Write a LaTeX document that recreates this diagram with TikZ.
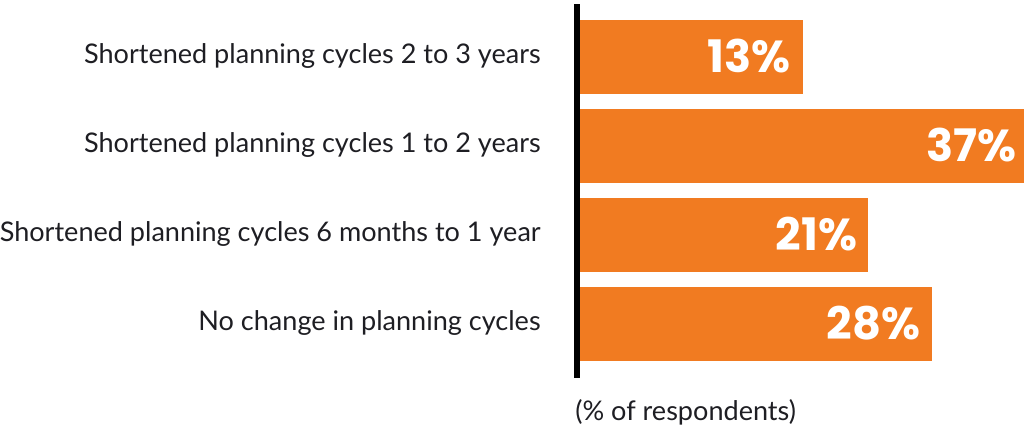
\documentclass[tikz,border=0pt]{standalone}
\usepackage{fontspec}
\setmainfont{Lato}
\newfontfamily\pctfont{Poppins}
\definecolor{barorange}{RGB}{241,123,33}
\definecolor{labelgray}{RGB}{30,30,35}
\tikzset{
  bar/.style={fill=barorange, inner sep=0pt, minimum height=1.48cm, anchor=west},
  pct/.style={font=\pctfont\bfseries\fontsize{25.5}{26}\selectfont, text=white, anchor=east, inner sep=0pt},
  cat/.style={font=\fontsize{15.4}{17}\selectfont, text=labelgray, anchor=east, inner sep=0pt}
}

\begin{document}
\begin{tikzpicture}[x=0.02cm, y=-0.02cm]
\useasboundingbox (0,0) rectangle (1024,426);

% 2 to 3 years
\node[cat] (lab1) at (541,56) {Shortened planning cycles 2 to 3 years};
\node[bar, minimum width=4.46cm] (bar1) at (580,57) {};
\node[pct] (pct1) at ([xshift=-0.26cm,yshift=0.02cm]bar1.east) {13\%};

% 1 to 2 years
\node[cat] (lab2) at (541,145) {Shortened planning cycles 1 to 2 years};
\node[bar, minimum width=8.88cm] (bar2) at (580,146) {};
\node[pct] (pct2) at ([xshift=-0.16cm,yshift=0.02cm]bar2.east) {37\%};

% 6 months to 1 year
\node[cat] (lab3) at (541,234) {Shortened planning cycles 6 months to 1 year};
\node[bar, minimum width=5.76cm] (bar3) at (580,235) {};
\node[pct] (pct3) at ([xshift=-0.22cm,yshift=0.02cm]bar3.east) {21\%};

% no change
\node[cat] (lab4) at (541,323) {No change in planning cycles};
\node[bar, minimum width=7.04cm] (bar4) at (580,324) {};
\node[pct] (pct4) at ([xshift=-0.24cm,yshift=0.02cm]bar4.east) {28\%};

% axis
\coordinate (axtop) at (577,4);
\coordinate (axbot) at (577,378);
\draw[line width=0.12cm] (axtop) -- (axbot);

\node[cat, anchor=west] (note) at (575,412) {(\% of respondents)};
\end{tikzpicture}
\end{document}
